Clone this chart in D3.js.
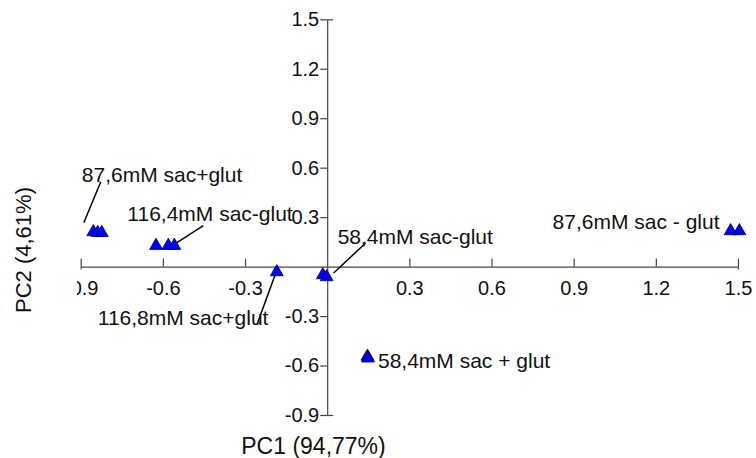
<!DOCTYPE html>
<html>
<head>
<meta charset="utf-8">
<script src="https://cdn.jsdelivr.net/npm/d3@7"></script>
<style>
  html, body { margin: 0; padding: 0; background: #fff; }
  svg { display: block; font-family: "Liberation Sans", Arial, sans-serif; }
</style>
</head>
<body>
<svg id="chart" width="756" height="458"></svg>
<script>
// PCA scores: one entry per sample, grouped by treatment
const groups = [
  "87,6mM sac+glut",
  "116,4mM sac-glut",
  "116,8mM sac+glut",
  "58,4mM sac-glut",
  "58,4mM sac + glut",
  "87,6mM sac - glut"
];
const pc1 = [-0.854, -0.838, -0.823,  -0.625, -0.580, -0.558,  -0.184,  -0.016, -0.002,  0.147, 0.149,  1.473, 1.505];
const pc2 = [ 0.210,  0.205,  0.205,   0.127,  0.127,  0.127,  -0.033,  -0.051, -0.063, -0.545, -0.556,  0.216, 0.216];
const sampleGroup = [0, 0, 0, 1, 1, 1, 2, 3, 3, 4, 4, 5, 5];

// Axis ticks (no label at the origin)
const xTicks = [-0.9, -0.6, -0.3, 0.3, 0.6, 0.9, 1.2, 1.5];
const yTicks = [1.5, 1.2, 0.9, 0.6, 0.3, -0.3, -0.6, -0.9];
const xTickLabels = ["-0.9", "-0.6", "-0.3", "0.3", "0.6", "0.9", "1.2", "1.5"];
const yTickLabels = ["1.5", "1.2", "0.9", "0.6", "0.3", "-0.3", "-0.6", "-0.9"];
const xTitle = "PC1 (94,77%)";
const yTitle = "PC2 (4,61%)";

// Label placement for each group: text offset and leader-line end, in pixels,
// measured from the group's reference sample (index into the score arrays)
const labelLayout = [
  { ref: 2,  tx: -20, ty: -51, leader: [[-18, -10], [-1, -51]] },
  { ref: 5,  tx: -47, ty: -25, leader: [[1, -2], [29, -20]] },
  { ref: 6,  tx: -179, ty: 53, leader: [[-1, 1], [-20, 53]] },
  { ref: 8,  tx: 11, ty: -33, leader: [[7, -4], [39, -34]] },
  { ref: 10, tx: 10, ty: 10, leader: null },
  { ref: 11, tx: -178, ty: -2, leader: null }
];

const svg = d3.select("#chart");
const x = d3.scaleLinear().domain([-0.9, 1.5]).range([80.7, 738]);
const y = d3.scaleLinear().domain([-0.9, 1.5]).range([415, 19.3]);
const axisColor = "#444";
const tickFont = 20;
const labelFont = 21;

// Left edge of the horizontal axis labels is trimmed
svg.append("defs").append("clipPath").attr("id", "xlabclip")
  .append("rect").attr("x", 77).attr("y", -300).attr("width", 700).attr("height", 700);

// Horizontal axis through y = 0, ticks pointing up
const gx = svg.append("g")
  .attr("transform", `translate(0,${y(0)})`)
  .attr("clip-path", "url(#xlabclip)")
  .call(d3.axisBottom(x)
    .tickValues(xTicks)
    .tickFormat((d, i) => xTickLabels[i])
    .tickSizeInner(-8)
    .tickSizeOuter(0)
    .tickPadding(14));

// Vertical axis through x = 0, ticks pointing left
const gy = svg.append("g")
  .attr("transform", `translate(${x(0)},0)`)
  .call(d3.axisLeft(y)
    .tickValues(yTicks)
    .tickFormat((d, i) => yTickLabels[i])
    .tickSizeInner(7)
    .tickSizeOuter(0)
    .tickPadding(1));

[gx, gy].forEach(g => {
  g.select(".domain").attr("stroke", axisColor).attr("stroke-width", 1.2);
  g.selectAll(".tick line").attr("stroke", axisColor).attr("stroke-width", 1.2);
  g.selectAll("text")
    .attr("fill", "#111")
    .style("font-size", tickFont + "px")
    .style("font-family", "'Liberation Sans', Arial, sans-serif");
});

// End ticks cross the axis line
gx.selectAll(".tick").filter(d => d === -0.9 || d === 1.5)
  .append("line").attr("y1", 0).attr("y2", 3).attr("stroke", axisColor).attr("stroke-width", 1.2);
gy.selectAll(".tick").filter(d => d === -0.9 || d === 1.5)
  .append("line").attr("x1", 0).attr("x2", 6).attr("stroke", axisColor).attr("stroke-width", 1.2);

// Axis titles
svg.append("text")
  .attr("x", 313.5).attr("y", 454)
  .attr("text-anchor", "middle")
  .style("font-size", "23px").attr("fill", "#111")
  .text(xTitle);
svg.append("text")
  .attr("transform", "translate(31,250) rotate(-90)")
  .attr("text-anchor", "middle")
  .style("font-size", "22px").attr("fill", "#111")
  .text(yTitle);

// Leader lines and group labels
const ann = svg.append("g");
labelLayout.forEach((l, gi) => {
  const px = x(pc1[l.ref]), py = y(pc2[l.ref]);
  if (l.leader) {
    ann.append("line")
      .attr("x1", px + l.leader[0][0]).attr("y1", py + l.leader[0][1])
      .attr("x2", px + l.leader[1][0]).attr("y2", py + l.leader[1][1])
      .attr("stroke", "#000").attr("stroke-width", 1.5);
  }
  ann.append("text")
    .attr("x", px + l.tx).attr("y", py + l.ty)
    .style("font-size", labelFont + "px").attr("fill", "#111")
    .text(groups[gi]);
});

// Sample markers
const tri = d3.symbol().type(d3.symbolTriangle).size(72);
svg.append("g").selectAll("path")
  .data(pc1.map((v, i) => ({ x: v, y: pc2[i], g: sampleGroup[i] })))
  .join("path")
  .attr("transform", d => `translate(${x(d.x)},${y(d.y)})`)
  .attr("d", tri)
  .attr("fill", "#0000ff")
  .attr("stroke", "#000040")
  .attr("stroke-width", 0.8);
</script>
</body>
</html>
